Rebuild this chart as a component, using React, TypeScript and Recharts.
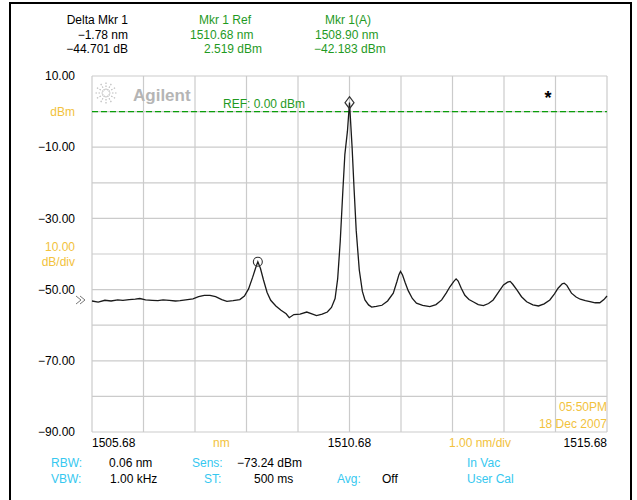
import React from 'react';
import {
  LineChart,
  Line,
  XAxis,
  YAxis,
  CartesianGrid,
  ReferenceLine,
  ReferenceDot,
} from 'recharts';

// trace (nm, dBm)
const wavelengths = [
  1505.68, 1505.8, 1505.93, 1506.05, 1506.18, 1506.28, 1506.4, 1506.52, 1506.61, 1506.72,
  1506.85, 1506.96, 1507.06, 1507.18, 1507.3, 1507.39, 1507.5, 1507.64, 1507.75, 1507.86,
  1507.97, 1508.08, 1508.2, 1508.3, 1508.42, 1508.55, 1508.64, 1508.72, 1508.8, 1508.86,
  1508.9, 1508.95, 1509.01, 1509.08, 1509.15, 1509.25, 1509.35, 1509.45, 1509.51, 1509.6,
  1509.72, 1509.85, 1509.95, 1510.04, 1510.15, 1510.25, 1510.33, 1510.4, 1510.45, 1510.5,
  1510.55, 1510.59, 1510.64, 1510.68, 1510.73, 1510.77, 1510.81, 1510.87, 1510.93, 1510.98,
  1511.05, 1511.11, 1511.2, 1511.31, 1511.42, 1511.53, 1511.6, 1511.64, 1511.67, 1511.71,
  1511.76, 1511.82, 1511.9, 1511.98, 1512.1, 1512.24, 1512.36, 1512.47, 1512.56, 1512.63,
  1512.71, 1512.75, 1512.79, 1512.85, 1512.92, 1513.0, 1513.08, 1513.18, 1513.28, 1513.38,
  1513.47, 1513.58, 1513.67, 1513.75, 1513.8, 1513.85, 1513.93, 1514.02, 1514.12, 1514.24,
  1514.35, 1514.46, 1514.57, 1514.66, 1514.73, 1514.81, 1514.85, 1514.9, 1514.99, 1515.08,
  1515.16, 1515.26, 1515.35, 1515.45, 1515.54, 1515.62, 1515.68,
];
const powers = [
  -53.2, -53.5, -53.0, -53.2, -52.9, -53.0, -52.8, -52.7, -52.5, -52.9,
  -53.0, -53.1, -52.9, -53.0, -53.2, -53.1, -52.9, -52.6, -52.0, -51.6,
  -51.6, -52.0, -52.8, -53.3, -53.1, -52.8, -51.8, -49.8, -46.5, -43.8,
  -42.183, -44.0, -47.3, -50.8, -53.0, -54.6, -55.8, -56.8, -57.9, -57.0,
  -56.9, -56.3, -56.8, -57.3, -56.9, -56.3, -55.0, -52.5, -47.0, -36.5,
  -22.5, -12.0, -5.5, 2.519, -9.9, -22.0, -33.3, -44.5, -50.5, -52.9,
  -54.3, -54.9, -54.7, -54.4, -53.2, -51.0, -47.8, -45.8, -44.9, -45.9,
  -48.0, -50.3, -52.5, -53.8, -54.4, -54.8, -54.2, -52.9, -50.9, -49.2,
  -47.6, -47.0, -47.6, -49.6, -51.6, -52.8, -53.4, -54.2, -54.5, -53.9,
  -52.9, -50.6, -48.7, -47.9, -47.7, -48.5, -50.1, -52.0, -53.4, -54.3,
  -54.6, -54.0, -52.9, -51.2, -49.6, -48.4, -48.2, -48.8, -51.0, -52.1,
  -52.7, -53.1, -53.4, -53.7, -53.7, -52.8, -51.8,
];

const xTicks = [
  1505.68, 1506.68, 1507.68, 1508.68, 1509.68, 1510.68, 1511.68, 1512.68, 1513.68, 1514.68,
  1515.68,
];
const xLabelled = [1505.68, 1510.68, 1515.68];
const yTicks = [10, 0, -10, -20, -30, -40, -50, -60, -70, -80, -90];
const yLabelled = [10, -10, -30, -50, -70, -90];

const refLevel = 0;
const mkrRef = { wl: 1510.68, dbm: 2.519 };
const mkrA = { wl: 1508.9, dbm: -42.183 };

const FONT = '"Liberation Sans", Arial, Helvetica, sans-serif';
const GREEN = '#1f9a1f';
const YELLOW = '#f2c23c';
const CYAN = '#36c8f0';

const data = wavelengths.map((wl, i) => ({ wl, dbm: powers[i] }));

const XTick = (props: any) => {
  const { x, y, payload } = props;
  const v = payload.value;
  const idx = xLabelled.findIndex((t) => Math.abs(t - v) < 0.001);
  if (idx < 0) return null;
  const anchor = idx === 0 ? 'start' : idx === xLabelled.length - 1 ? 'end' : 'middle';
  return (
    <text x={x} y={y + 15} textAnchor={anchor} fontSize={12} fontFamily={FONT} fill="#000">
      {v.toFixed(2)}
    </text>
  );
};

const Diamond = (props: any) => {
  const { cx, cy } = props;
  return (
    <path
      d={`M${cx},${cy - 6} L${cx + 4.5},${cy} L${cx},${cy + 6} L${cx - 4.5},${cy} Z`}
      fill="none"
      stroke="#333"
      strokeWidth={1.2}
    />
  );
};

const T = ({ x, y, c = '#000', a = 'start', s = 12, w = 'normal', children }: any) => (
  <text x={x} y={y} fill={c} textAnchor={a} fontSize={s} fontWeight={w} fontFamily={FONT}>
    {children}
  </text>
);

const sparkAngles = [0, 30, 60, 90, 120, 150, 180, 210, 240, 270, 300, 330];

const App: React.FC = () => {
  return (
    <div style={{ position: 'absolute', left: 0, top: 0, width: 637, height: 500, background: '#fff' }}>
      <LineChart
        width={637}
        height={500}
        data={data}
        margin={{ top: 76, right: 30, bottom: 38, left: 32 }}
      >
        <CartesianGrid stroke="#cbcbcb" strokeWidth={1.2} />
        <XAxis
          dataKey="wl"
          type="number"
          domain={[1505.68, 1515.68]}
          ticks={xTicks}
          height={30}
          axisLine={false}
          tickLine={false}
          tickSize={0}
          tickMargin={0}
          tick={<XTick />}
          interval={0}
        />
        <YAxis
          type="number"
          domain={[-90, 10]}
          ticks={yTicks}
          width={60}
          axisLine={false}
          tickLine={false}
          tickSize={0}
          tickMargin={17}
          interval={0}
          allowDataOverflow
          tick={{ fill: '#000', fontSize: 12, fontFamily: FONT }}
          tickFormatter={(v: number) => (yLabelled.includes(v) ? v.toFixed(2).replace('-', '\u2212') : '')}
        />
        <ReferenceLine y={refLevel} stroke="#0a9e0a" strokeWidth={1.4} strokeDasharray="6 3" />
        <Line
          dataKey="dbm"
          type="linear"
          stroke="#1a1a1a"
          strokeWidth={1.3}
          dot={false}
          isAnimationActive={false}
        />
        <ReferenceDot x={mkrA.wl} y={mkrA.dbm} r={4.5} fill="none" stroke="#333" strokeWidth={1.1} />
        <ReferenceDot x={mkrRef.wl} y={mkrRef.dbm} shape={<Diamond />} />
      </LineChart>

      <svg
        width={637}
        height={500}
        style={{ position: 'absolute', left: 0, top: 0, pointerEvents: 'none' }}
      >
        {/* frame */}
        <path d="M10,500 L10,3 L631,3 L631,500" fill="none" stroke="#000" strokeWidth={2} />

        {/* marker readouts */}
        <T x={128} y={24} a="end">Delta Mkr 1</T>
        <T x={128} y={39} a="end">{'\u22121.78 nm'}</T>
        <T x={128} y={53} a="end">{'\u221244.701 dB'}</T>
        <T x={199} y={24} c={GREEN}>Mkr 1 Ref</T>
        <T x={190} y={39} c={GREEN}>{`${mkrRef.wl.toFixed(2)} nm`}</T>
        <T x={204} y={53} c={GREEN}>{`${mkrRef.dbm.toFixed(3)} dBm`}</T>
        <T x={325} y={24} c={GREEN}>Mkr 1(A)</T>
        <T x={315} y={39} c={GREEN}>{`${mkrA.wl.toFixed(2)} nm`}</T>
        <T x={314} y={53} c={GREEN}>{`\u2212${Math.abs(mkrA.dbm).toFixed(3)} dBm`}</T>

        {/* logo */}
        {sparkAngles.map((a) => {
          const r = (a * Math.PI) / 180;
          return (
            <line
              key={a}
              x1={106 + 3 * Math.cos(r)}
              y1={93 + 3 * Math.sin(r)}
              x2={106 + 11 * Math.cos(r)}
              y2={93 + 11 * Math.sin(r)}
              stroke="#bdbdbd"
              strokeWidth={1.2}
              strokeDasharray="1.5 1.5"
            />
          );
        })}
        <T x={133} y={101} c="#b5b5b5" s={17} w="bold">Agilent</T>

        <T x={223} y={108} c={GREEN}>REF: 0.00 dBm</T>
        <T x={548} y={104} a="middle" s={18} w="bold">*</T>

        {/* left side labels */}
        <T x={75} y={116} a="end" c={YELLOW}>dBm</T>
        <T x={75} y={251} a="end" c={YELLOW}>10.00</T>
        <T x={75} y={266} a="end" c={YELLOW}>dB/div</T>
        <path d="M76,296 L81,300 L76,304 M80,296 L85,300 L80,304" fill="none" stroke="#777" strokeWidth={1} />

        {/* bottom */}
        <T x={607} y={411} a="end" c={YELLOW}>05:50PM</T>
        <T x={607} y={428} a="end" c={YELLOW}>18 Dec 2007</T>
        <T x={213} y={447} c={YELLOW}>nm</T>
        <T x={449} y={447} c={YELLOW}>1.00 nm/div</T>

        <T x={51} y={467} c={CYAN}>RBW:</T>
        <T x={109} y={467}>0.06 nm</T>
        <T x={192} y={467} c={CYAN}>Sens:</T>
        <T x={237} y={467}>{'\u221273.24 dBm'}</T>
        <T x={467} y={467} c={CYAN}>In Vac</T>

        <T x={51} y={483} c={CYAN}>VBW:</T>
        <T x={110} y={483}>1.00 kHz</T>
        <T x={204} y={483} c={CYAN}>ST:</T>
        <T x={254} y={483}>500 ms</T>
        <T x={337} y={483} c={CYAN}>Avg:</T>
        <T x={382} y={483}>Off</T>
        <T x={467} y={483} c={CYAN}>User Cal</T>
      </svg>
    </div>
  );
};

export default App;
